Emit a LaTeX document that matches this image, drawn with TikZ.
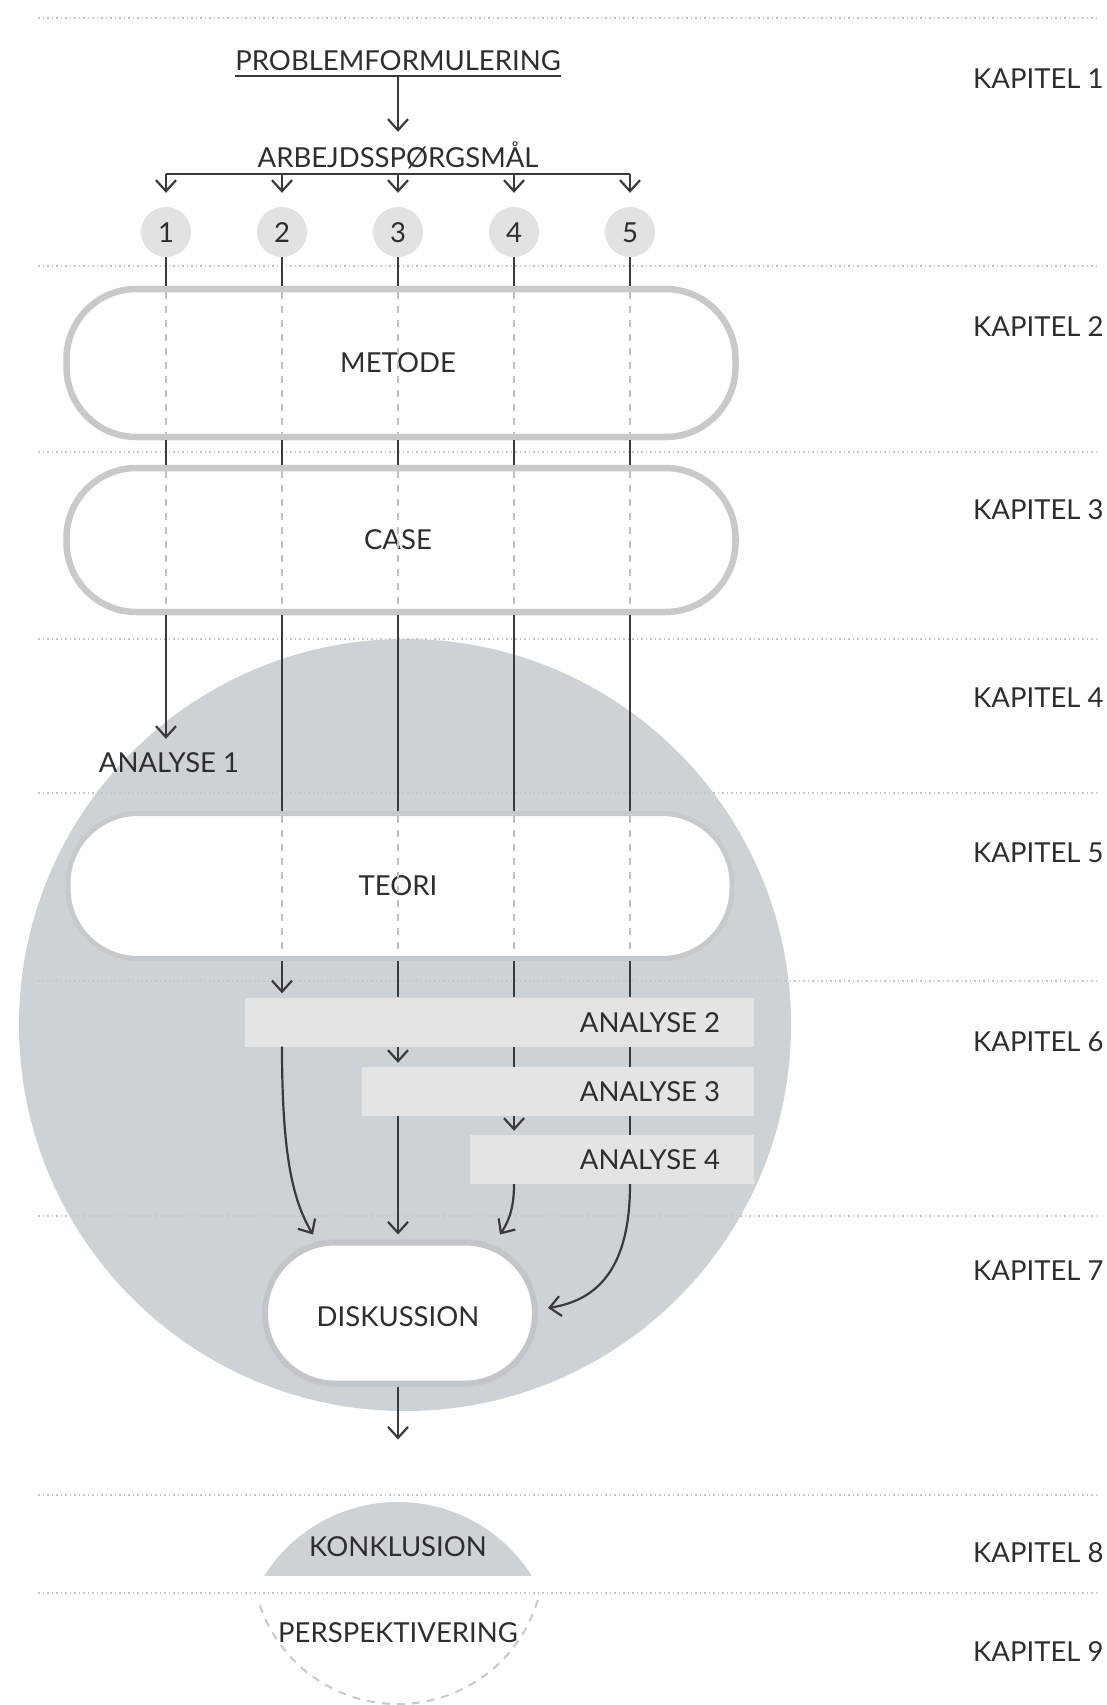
\documentclass[tikz,border=0pt]{standalone}
\usepackage{fontspec}
\setmainfont{Lato}
\usetikzlibrary{arrows.meta,calc}

\definecolor{ink}{HTML}{2E2E2E}
\definecolor{wire}{HTML}{3A3A3A}
\definecolor{disc}{HTML}{CDD2D7}
\definecolor{rim}{HTML}{C9C9C9}
\definecolor{rimteori}{HTML}{C7CACD}
\definecolor{rimdark}{HTML}{C2C6CA}
\definecolor{boxfill}{HTML}{E4E4E4}
\definecolor{numfill}{HTML}{E2E2E2}
\definecolor{sep}{HTML}{C6C6C6}
\definecolor{ghost}{HTML}{BDBDBD}

\begin{document}
\begin{tikzpicture}[x=1pt,y=-1pt,
  every node/.style={font=\fontsize{27.5}{32}\selectfont, text=ink},
  lbl/.style={inner sep=0pt, text height=20pt, text depth=0pt},
  wireline/.style={draw=wire, line width=2.2pt},
  conn/.style={wireline, -{Straight Barb[length=11pt,width=20pt]}},
  ghostline/.style={draw=ghost, line width=1.5pt, dash pattern=on 7pt off 7pt},
  sepline/.style={draw=sep, line width=1.5pt, dash pattern=on 1.5pt off 3pt},
  pill/.style={rectangle, rounded corners=70pt, fill=white, draw=rim, line width=6.5pt,
               inner sep=0pt},
  numdot/.style={circle, fill=numfill, minimum size=50pt, inner sep=0pt,
                 text height=20pt, text depth=0pt},
  abox/.style={rectangle, fill=boxfill, inner sep=0pt, minimum height=49pt},
  chap/.style={lbl, anchor=west},
]
% canvas
\fill[white] (0,0) rectangle (1107,1705);
\useasboundingbox (0,0) rectangle (1107,1705);

% large analysis disc
\node[circle, fill=disc, minimum size=772pt, inner sep=0pt] (bigdisc) at (405,1025) {};

% chapter separators
\foreach \yy in {18,266,452,639,793,981,1216,1495,1593}
  \draw[sepline] (38,\yy) -- (1098,\yy);

% chapter labels
\foreach \yy/\n in {78/1,326/2,509/3,697/4,852/5,1041/6,1270/7,1552/8,1651/9}
  \node[chap] (kap\n) at (973,\yy) {KAPITEL \n};

% problem statement and research questions
\node[lbl] (pf) at (398,60) {PROBLEMFORMULERING};
\draw[wireline] ([yshift=-6pt]pf.south west) -- ([yshift=-6pt]pf.south east);
\node[lbl] (arb) at (398,157) {ARBEJDSSPØRGSMÅL};
\draw[conn, shorten >=15pt] ([yshift=-6pt]pf.south) -- (arb.north);
\coordinate (brk) at ([yshift=-7pt]arb.south);

\foreach \k/\xx in {1/166,2/282,3/398,4/514,5/630}
  \node[numdot] (q\k) at (\xx,232) {\k};

\draw[wireline] (brk -| q1) -- (brk -| q5);
\foreach \k in {1,...,5}
  \draw[conn, shorten >=14pt] (brk -| q\k) -- (q\k.north);

% chapter blocks
\node[pill, minimum width=669pt, minimum height=148pt] (metode) at (401,363) {};
\node[pill, minimum width=669pt, minimum height=144pt] (case) at (401,540) {};
\node[pill, draw=rimteori, line width=5pt, minimum width=664pt, minimum height=145pt] (teori) at (400,886) {};
\node[pill, draw=rimdark, line width=6pt, minimum width=270pt, minimum height=141pt] (disk) at (400,1313) {};
\node[lbl] (metodetxt) at (398,362) {METODE};
\node[lbl] (casetxt) at (398,539) {CASE};
\node[lbl] (teoritxt) at (398,885) {TEORI};
\node[lbl] (disktxt) at (398,1316) {DISKUSSION};

% analysis bars
\node[abox, minimum width=509pt] (a2) at (499.5,1022) {};
\node[abox, minimum width=392pt] (a3) at (558,1091.5) {};
\node[abox, minimum width=284pt] (a4) at (612,1159.5) {};
\node[lbl, anchor=east] (t2) at ([xshift=-34pt]a2.east) {ANALYSE 2};
\node[lbl, anchor=east] (t3) at ([xshift=-34pt]a3.east) {ANALYSE 3};
\node[lbl, anchor=east] (t4) at ([xshift=-34pt]a4.east) {ANALYSE 4};
\node[lbl] (an1) at (169,762) {ANALYSE 1};

% question threads through method and case
\foreach \k in {1,...,5}{
  \draw[wireline] (q\k.south) -- (metode.north -| q\k);
  \draw[ghostline] ($(metode.north -| q\k)+(0,6.5)$) -- ($(metode.south -| q\k)+(0,-6.5)$);
  \draw[wireline] (metode.south -| q\k) -- (case.north -| q\k);
  \draw[ghostline] ($(case.north -| q\k)+(0,6.5)$) -- ($(case.south -| q\k)+(0,-6.5)$);
}
\draw[conn, shorten >=13pt] (case.south -| q1) -- (an1.north -| q1);

% threads through theory
\foreach \k in {2,...,5}{
  \draw[wireline] (case.south -| q\k) -- (teori.north -| q\k);
  \draw[ghostline] ($(teori.north -| q\k)+(0,5)$) -- ($(teori.south -| q\k)+(0,-5)$);
}

% threads into the analyses
\draw[conn, shorten >=4pt] (teori.south -| q2) -- (a2.north -| q2);
\foreach \k in {3,4,5}
  \draw[wireline] (teori.south -| q\k) -- (a2.north -| q\k);
\draw[conn, shorten >=4pt] (a2.south -| q3) -- (a3.north -| q3);
\foreach \k in {4,5}
  \draw[wireline] (a2.south -| q\k) -- (a3.north -| q\k);
\draw[conn, shorten >=4pt] (a3.south -| q4) -- (a4.north -| q4);
\draw[wireline] (a3.south -| q5) -- (a4.north -| q5);

% analyses converge on the discussion
\draw[conn] (a2.south -| q2) .. controls ($(a2.south -| q2)+(0,105)$) and ($(disk.north)+(-108,-40)$) .. ($(disk.north)+(-87,-5)$);
\draw[conn, shorten >=5pt] (a3.south -| q3) -- (disk.north -| q3);
\draw[conn] (a4.south -| q4) .. controls ($(a4.south -| q4)+(0,21)$) and ($(disk.north)+(110,-20)$) .. ($(disk.north)+(100,-5)$);
\draw[conn] (a4.south -| q5) .. controls ($(a4.south -| q5)+(0,81)$) and ($(disk.east)+(62,-13)$) .. ($(disk.east)+(10,-5)$);

\coordinate (diskout) at ($(disk.south -| disktxt)+(0,53)$);
\draw[conn] (disk.south -| disktxt) -- (diskout);

% conclusion and perspective
\begin{scope}
  \clip (0,0) rectangle (1107,1575);
  \fill[disc] (398,1660) circle[radius=158];
\end{scope}
\node[lbl] (konk) at (398,1546) {KONKLUSION};
\node[lbl] (persp) at (398,1632) {PERSPEKTIVERING};
\draw[draw=rim, line width=2pt, dash pattern=on 8pt off 7pt]
  (537.8,1600) arc[start angle=16.7, end angle=163.3, radius=146];
\end{tikzpicture}
\end{document}
